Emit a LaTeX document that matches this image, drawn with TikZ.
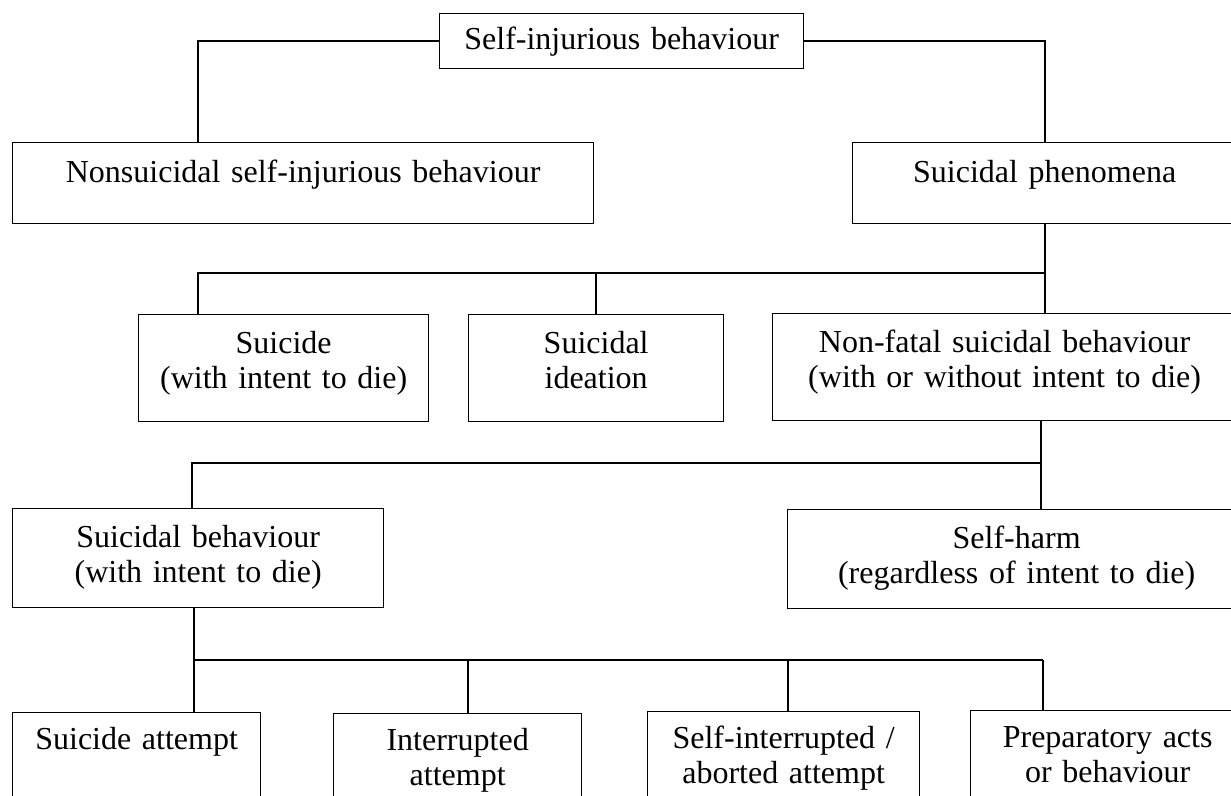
\documentclass[tikz,border=0pt]{standalone}
\usepackage{fontspec}
\setmainfont{Liberation Serif}
\tikzset{
	cell/.style={draw, line width=1.3pt, anchor=north west, inner sep=0pt,
		align=center, font=\fontsize{32}{34.5}\selectfont,
		text height=39pt, text depth=68pt},
	link/.style={line width=1.8pt}
}

\begin{document}
\begin{tikzpicture}[x=1pt,y=-1pt]
	\useasboundingbox (0,0) rectangle (1231,795);
	\clip (0,0) rectangle (1231,795);
	% top two levels
	\node[cell, text width=364pt, text height=36pt, text depth=19pt] (sib) at (439,13) {Self-injurious behaviour};
	\node[cell, text width=581pt, text height=40pt, text depth=41pt] (nssib) at (12,142) {Nonsuicidal self-injurious behaviour};
	\node[cell, text width=384pt, text height=40pt, text depth=41pt] (phen) at (852,142) {Suicidal phenomena};
	% suicidal phenomena
	\node[cell, text width=290pt] (suicide) at (138,314) {Suicide\\(with intent to die)};
	\node[cell, text width=255pt] (ideation) at (468,314) {Suicidal\\ideation};
	\node[cell, text width=464pt] (nonfatal) at (772,313) {Non-fatal suicidal behaviour\\(with or without intent to die)};
	% non-fatal suicidal behaviour
	\node[cell, text width=371pt, text depth=60pt] (behav) at (12,508) {Suicidal behaviour\\(with intent to die)};
	\node[cell, text width=458pt, text depth=60pt] (harm) at (787,509) {Self-harm\\(regardless of intent to die)};
	% kinds of suicidal behaviour
	\node[cell, text width=248pt, text height=37pt, text depth=70pt] (attempt) at (12,712) {Suicide attempt};
	\node[cell, text width=248pt, text height=37pt, text depth=70pt] (interr) at (333,713) {Interrupted\\attempt};
	\node[cell, text width=272pt, text height=37pt, text depth=70pt] (aborted) at (647,711) {Self-interrupted /\\aborted attempt};
	\node[cell, text width=274pt, text height=37pt, text depth=70pt] (prep) at (970,710) {Preparatory acts\\or behaviour};

	\coordinate (bar1) at (1044,273);
	\coordinate (bar2) at (1041,463);
	\coordinate (bar3) at (1043,660);

	\draw[link] ([xshift=186pt]nssib.north west) |- (sib.west);
	\draw[link] (phen.north) |- (sib.east);
	\draw[link] (phen.south) -- (phen.south |- nonfatal.north);
	\draw[link] ([xshift=60pt]suicide.north west) |- (bar1);
	\draw[link] (ideation.north) |- (bar1);
	\draw[link] (nonfatal.south -| bar2) -- (harm.north -| bar2);
	\draw[link] ([xshift=180pt]behav.north west) |- (bar2);
	\draw[link] ([xshift=182pt]behav.south west) -- ([xshift=182pt]attempt.north west);
	\draw[link] ([xshift=182pt]attempt.north west) |- (bar3);
	\draw[link] ([xshift=135pt]interr.north west) |- (bar3);
	\draw[link] ([xshift=141pt]aborted.north west) |- (bar3);
	\draw[link] (bar3) -- (bar3 |- prep.north);
\end{tikzpicture}
\end{document}
